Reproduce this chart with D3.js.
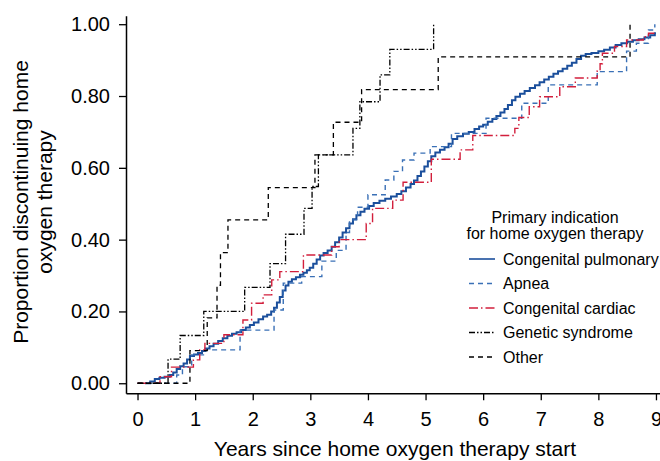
<!DOCTYPE html>
<html>
<head>
<meta charset="utf-8">
<script src="https://cdn.jsdelivr.net/npm/d3@7"></script>
<style>
html,body{margin:0;padding:0;background:#fff;}
svg{display:block;font-family:"Liberation Sans",Arial,Helvetica,sans-serif;}
</style>
</head>
<body>
<svg id="chart" width="660" height="461"></svg>
<script>
// ---- Data ----
const xTicks = [0,1,2,3,4,5,6,7,8,9];
const yTicks = [0,0.2,0.4,0.6,0.8,1.0];

// [years, cumulative proportion discontinuing]
const pulmonary = [[0.13,0],[0.22,0.005],[0.3,0.012],[0.38,0.015],[0.47,0.018],[0.56,0.023],[0.62,0.03],[0.68,0.04],[0.74,0.047],[0.8,0.055],[0.86,0.066],[0.91,0.076],[0.98,0.08],[1.05,0.084],[1.12,0.09],[1.18,0.097],[1.25,0.103],[1.32,0.11],[1.4,0.118],[1.48,0.125],[1.56,0.132],[1.64,0.138],[1.72,0.142],[1.8,0.148],[1.88,0.155],[1.95,0.162],[2.02,0.169],[2.1,0.178],[2.18,0.186],[2.25,0.191],[2.32,0.2],[2.37,0.21],[2.42,0.225],[2.47,0.24],[2.52,0.258],[2.57,0.272],[2.62,0.283],[2.68,0.29],[2.75,0.295],[2.82,0.302],[2.88,0.308],[2.94,0.315],[2.99,0.322],[3.05,0.333],[3.11,0.345],[3.17,0.356],[3.23,0.363],[3.3,0.37],[3.37,0.38],[3.43,0.393],[3.5,0.406],[3.56,0.42],[3.62,0.432],[3.68,0.445],[3.74,0.457],[3.8,0.468],[3.87,0.478],[3.94,0.486],[4.02,0.494],[4.1,0.502],[4.2,0.508],[4.3,0.514],[4.4,0.52],[4.5,0.527],[4.58,0.535],[4.66,0.545],[4.74,0.555],[4.8,0.565],[4.86,0.577],[4.92,0.59],[4.98,0.604],[5.04,0.618],[5.1,0.632],[5.17,0.643],[5.25,0.65],[5.33,0.657],[5.4,0.667],[5.47,0.68],[5.55,0.688],[5.65,0.695],[5.75,0.7],[5.85,0.708],[5.93,0.715],[6.0,0.72],[6.08,0.728],[6.16,0.736],[6.23,0.744],[6.3,0.754],[6.37,0.764],[6.43,0.775],[6.5,0.788],[6.56,0.798],[6.64,0.806],[6.72,0.814],[6.81,0.822],[6.9,0.83],[6.98,0.838],[7.06,0.846],[7.14,0.854],[7.22,0.862],[7.3,0.869],[7.38,0.876],[7.46,0.884],[7.54,0.893],[7.62,0.903],[7.7,0.912],[7.78,0.917],[7.88,0.92],[8.0,0.925],[8.1,0.929],[8.2,0.935],[8.3,0.942],[8.4,0.947],[8.5,0.951],[8.6,0.955],[8.7,0.958],[8.8,0.963],[8.9,0.969],[8.98,0.975],[9.0,0.975]];
const apnea = [[0,0],[0.68,0.023],[0.78,0.046],[0.94,0.079],[1.17,0.093],[1.78,0.148],[2.37,0.204],[2.53,0.279],[2.85,0.297],[3.2,0.34],[3.45,0.37],[3.62,0.42],[3.68,0.455],[3.82,0.49],[4.0,0.525],[4.3,0.566],[4.45,0.59],[4.6,0.622],[4.8,0.641],[5.08,0.659],[5.45,0.696],[6.05,0.738],[6.67,0.78],[7.13,0.831],[7.98,0.868],[8.49,0.925],[8.66,0.947],[8.87,0.984],[8.98,1.0]];
const cardiac = [[0,0],[0.39,0.018],[0.59,0.045],[0.97,0.065],[1.08,0.093],[1.17,0.111],[1.5,0.135],[1.83,0.176],[1.98,0.223],[2.18,0.246],[2.33,0.288],[2.47,0.311],[2.88,0.357],[3.37,0.38],[3.5,0.40],[3.97,0.445],[4.08,0.487],[4.43,0.51],[4.61,0.56],[5.1,0.624],[5.6,0.65],[5.82,0.69],[6.55,0.71],[6.62,0.74],[6.8,0.77],[6.98,0.798],[7.33,0.826],[7.6,0.85],[7.98,0.87],[8.03,0.89],[8.07,0.919],[8.28,0.938],[8.49,0.956],[8.78,0.965],[8.87,0.975],[9.0,0.975]];
const genetic = [[0,0],[0.53,0.067],[0.74,0.133],[1.15,0.2],[1.86,0.267],[2.3,0.333],[2.57,0.415],[2.89,0.487],[3.03,0.548],[3.14,0.636],[3.74,0.71],[3.86,0.784],[4.21,0.859],[4.38,0.93],[5.14,1.0]];
const other = [[0,0],[0.91,0.091],[1.21,0.182],[1.38,0.273],[1.44,0.364],[1.57,0.455],[2.27,0.545],[3.08,0.636],[3.4,0.727],[3.89,0.818],[5.22,0.909],[8.55,1.0]];

const seriesNames = ["Congenital pulmonary","Apnea","Congenital cardiac","Genetic syndrome","Other"];
const seriesData = [pulmonary, apnea, cardiac, genetic, other];
const seriesColors = ["#1b4f9c","#3a70b6","#d21f3c","#000000","#000000"];
const seriesDash = [null,"5,4","9,3,1.5,3","6,2,1.5,2,1.5,2","5,4"];
const seriesWidth = [2,1.4,1.4,1.3,1.3];

// ---- Chart ----
const svg = d3.select("#chart");
const x = d3.scaleLinear().domain([-0.2, 9.07]).range([126, 660]);
const y = d3.scaleLinear().domain([-0.028, 1.0237]).range([393.3, 15.7]);
const font = 20;

const gx = svg.append("g").attr("transform","translate(0,393.3)")
  .call(d3.axisBottom(x).tickValues(xTicks).tickFormat(d3.format("d")).tickSize(7).tickSizeOuter(0).tickPadding(12));
const gy = svg.append("g").attr("transform","translate(126,0)")
  .call(d3.axisLeft(y).tickValues(yTicks).tickFormat(d3.format(".2f")).tickSize(7).tickSizeOuter(0).tickPadding(9));
[gx,gy].forEach(g=>{
  g.selectAll("text").attr("font-size",font).attr("fill","#000").attr("font-family","Liberation Sans, Arial, sans-serif");
  g.selectAll("line").attr("stroke","#000").attr("stroke-width",1.3);
  g.select(".domain").attr("stroke","#000").attr("stroke-width",1.5);
});

// curves
const line = d3.line().x(d=>x(d[0])).y(d=>y(d[1])).curve(d3.curveStepAfter);
seriesData.forEach((data,i)=>{
  svg.append("path").datum(data).attr("d",line)
    .attr("fill","none").attr("stroke",seriesColors[i])
    .attr("stroke-width",seriesWidth[i])
    .attr("stroke-dasharray",seriesDash[i]);
});

// axis titles
svg.append("text").attr("x",395).attr("y",456).attr("text-anchor","middle")
  .attr("font-size",21).text("Years since home oxygen therapy start");
svg.append("text").attr("transform","translate(28,202) rotate(-90)").attr("text-anchor","middle")
  .attr("font-size",21).text("Proportion discontinuing home");
svg.append("text").attr("transform","translate(52,202) rotate(-90)").attr("text-anchor","middle")
  .attr("font-size",21).text("oxygen therapy");

// legend
const lg = svg.append("g");
lg.append("text").attr("x",555).attr("y",223).attr("text-anchor","middle").attr("font-size",16).text("Primary indication");
lg.append("text").attr("x",555).attr("y",239).attr("text-anchor","middle").attr("font-size",16).text("for home oxygen therapy");
seriesNames.forEach((name,i)=>{
  const yy = 259 + i*24.5;
  lg.append("line").attr("x1",469).attr("x2",495).attr("y1",yy).attr("y2",yy)
    .attr("stroke",seriesColors[i]).attr("stroke-width",seriesWidth[i]===2?1.6:1.3)
    .attr("stroke-dasharray",seriesDash[i]);
  lg.append("text").attr("x",503).attr("y",yy+5.5).attr("font-size",16).text(name);
});
</script>
</body>
</html>
